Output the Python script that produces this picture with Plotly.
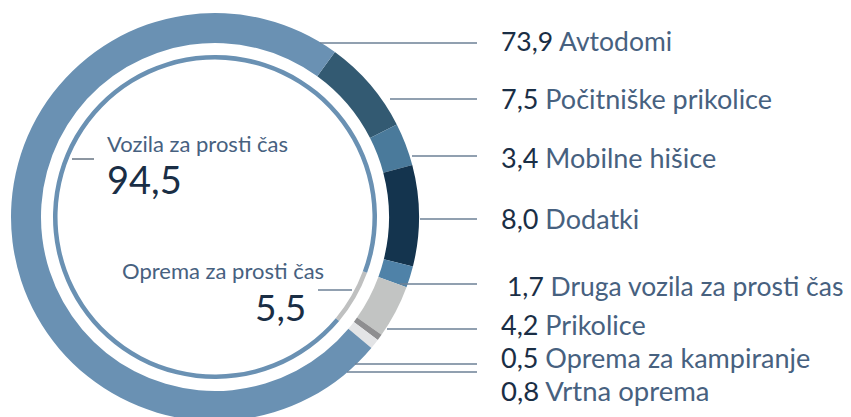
import plotly.graph_objects as go

# ---- data ----
categories = ["Počitniške prikolice", "Mobilne hišice", "Dodatki",
              "Druga vozila za prosti čas", "Prikolice",
              "Oprema za kampiranje", "Vrtna oprema", "Avtodomi"]
values = [7.5, 3.4, 8.0, 1.7, 4.2, 0.5, 0.8, 73.9]
label_order = ["Avtodomi", "Počitniške prikolice", "Mobilne hišice", "Dodatki",
               "Druga vozila za prosti čas", "Prikolice",
               "Oprema za kampiranje", "Vrtna oprema"]
groups = ["Oprema za prosti čas", "Vozila za prosti čas"]
group_values = [5.5, 94.5]

# ---- styles ----
colors = ["#335a72", "#4a7a9b", "#14344e", "#4f82a8",
          "#c2c4c3", "#8e8e90", "#e3e4e6", "#6a91b3"]
group_colors = ["#bfc0c0", "#6a91b3"]
NUM = "#1a2e45"
NAME = "#47617f"
W, H = 851, 417
OFF = 8  # page body margin
FONT = "Lato"

def fmt(v):
    return f"{v:.1f}".replace(".", ",")

def px(x):
    return (x - OFF) / W

def py(y):
    return 1 - (y - OFF) / H

fig = go.Figure()

# outer ring (reference pixel coordinates)
cx, cy, r = 215, 217, 204
fig.add_trace(go.Pie(
    labels=categories, values=values, sort=False, direction="clockwise",
    rotation=36, hole=0.853, marker=dict(colors=colors, line=dict(width=0)),
    textinfo="none", hoverinfo="label+value", showlegend=False,
    domain=dict(x=[px(cx - r), px(cx + r)], y=[py(cy + r), py(cy - r)]),
))
# inner thin ring
ri = 162
start_gray = 36 + sum(values[:4]) * 3.6
fig.add_trace(go.Pie(
    labels=groups, values=group_values, sort=False, direction="clockwise",
    rotation=start_gray, hole=0.972,
    marker=dict(colors=group_colors, line=dict(width=0)),
    textinfo="none", hoverinfo="label+value", showlegend=False,
    domain=dict(x=[px(cx - ri), px(cx + ri)], y=[py(cy + ri), py(cy - ri)]),
))

# right labels and leader lines
label_y = [41, 98, 157, 218, 286, 324, 357, 390]
line_y = [43, 99, 156, 219, 284, 329, 364, 372]
line_x0 = [320, 390, 412, 420, 400, 387, 355, 347]
label_x = [499, 499, 499, 499, 505, 499, 499, 499]
label_size = [26.5, 27, 27, 27, 26.5, 27, 27, 27.5]
val_map = dict(zip(categories, values))

shapes = []
annotations = []
for i, name in enumerate(label_order):
    shapes.append(dict(type="line", xref="paper", yref="paper",
                       x0=px(line_x0[i]), x1=px(477),
                       y0=py(line_y[i]), y1=py(line_y[i]),
                       line=dict(color="#6d8196", width=1.5)))
    annotations.append(dict(
        xref="paper", yref="paper", x=px(label_x[i]), y=py(label_y[i]),
        xanchor="left", yanchor="middle", showarrow=False,
        text=f"<span style='color:{NUM}'>{fmt(val_map[name])}</span> {name}",
        font=dict(family=FONT, size=label_size[i], color=NAME)))

# inner group labels
shapes.append(dict(type="line", xref="paper", yref="paper",
                   x0=px(72), x1=px(94), y0=py(159), y1=py(159),
                   line=dict(color="#1a2e45", width=1)))
shapes.append(dict(type="line", xref="paper", yref="paper",
                   x0=px(318), x1=px(352), y0=py(290), y1=py(290),
                   line=dict(color="#6d8196", width=1.5)))

annotations += [
    dict(xref="paper", yref="paper", x=px(105), y=py(143),
         xanchor="left", yanchor="middle", showarrow=False,
         text=groups[1], font=dict(family=FONT, size=22, color=NAME)),
    dict(xref="paper", yref="paper", x=px(105), y=py(179),
         xanchor="left", yanchor="middle", showarrow=False,
         text=fmt(group_values[1]), font=dict(family=FONT, size=38, color=NUM)),
    dict(xref="paper", yref="paper", x=px(326), y=py(270),
         xanchor="right", yanchor="middle", showarrow=False,
         text=groups[0], font=dict(family=FONT, size=22, color=NAME)),
    dict(xref="paper", yref="paper", x=px(308), y=py(306),
         xanchor="right", yanchor="middle", showarrow=False,
         text=fmt(group_values[0]), font=dict(family=FONT, size=37, color=NUM)),
]

fig.update_layout(width=W, height=H, margin=dict(l=0, r=0, t=0, b=0),
                  paper_bgcolor="white", plot_bgcolor="white",
                  shapes=shapes, annotations=annotations)
fig.write_html("out.html")
